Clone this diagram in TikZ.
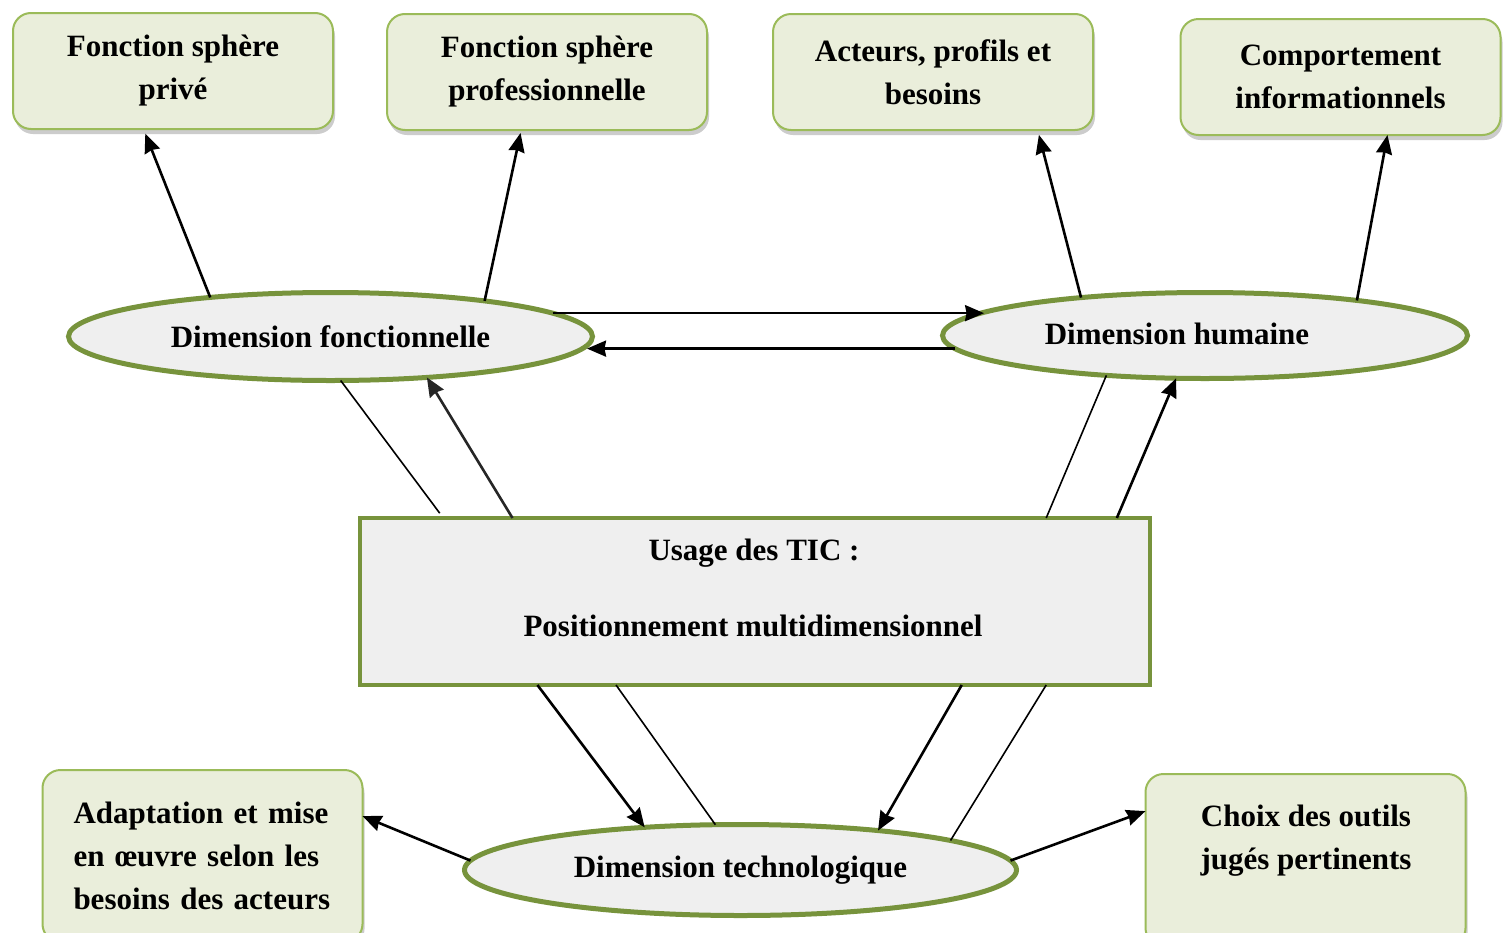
\documentclass[tikz,border=0pt]{standalone}
\usepackage{fontspec}
\setmainfont{Liberation Serif}
\usetikzlibrary{shapes.geometric,arrows.meta,shadows}
\definecolor{boxline}{HTML}{9BBB59}
\definecolor{boxfill}{HTML}{EAEEDB}
\definecolor{dimline}{HTML}{77933C}
\definecolor{dimfill}{HTML}{EFEFEF}
\begin{document}
\begin{tikzpicture}[x=1pt,y=-1pt,
  txt/.style={font=\fontsize{31}{43}\selectfont\bfseries, align=center, inner sep=0pt},
  topic/.style={txt, draw=boxline, fill=boxfill, line width=2pt, rounded corners=18pt,
    minimum width=320pt, minimum height=116pt, outer sep=0pt,
    drop shadow={shadow xshift=2pt, shadow yshift=-5pt, opacity=0.4}},
  dim/.style={txt, ellipse, draw=dimline, fill=dimfill, line width=5pt, outer sep=0pt},
  usage/.style={draw=dimline, fill=dimfill, line width=4pt, minimum width=790pt,
    minimum height=167pt, inner sep=0pt, outer sep=0pt},
  arr/.style={-{Stealth[length=19pt,width=16pt,inset=1.5pt]}, line width=2.6pt},
  link/.style={line width=1.6pt},
]
\clip (0,0) rectangle (1507,932);
\fill[white] (0,0) rectangle (1507,932);

% upper topic boxes
\node[topic] (prive) at (173,71) {Fonction sphère\\privé};
\node[topic] (pro) at (547,72) {Fonction sphère\\professionnelle};
\node[topic] (acteurs) at (933,72) {Acteurs, profils et\\besoins};
\node[topic] (comport) at (1340.5,77) {Comportement\\informationnels};

% lower topic boxes
\node[topic, minimum height=172pt, text width=258pt, align=left] (adapt) at (202.5,856)
  {\makebox[258pt][s]{Adaptation et mise}\\\makebox[258pt][s]{en œuvre selon les}\\\makebox[258pt][s]{besoins des acteurs}};
\node[topic, minimum height=172pt] (choix) at (1305.5,860) {};
\node[txt] (choix-t) at (1306,841) {Choix des outils\\jugés pertinents};

% the three dimensions
\node[dim, minimum width=524pt, minimum height=88pt] (fonc) at (330.5,336.5) {Dimension fonctionnelle};
\node[dim, minimum width=525pt, minimum height=86pt] (hum) at (1205,335.5) {};
\node[txt] (hum-t) at (1177,334) {Dimension humaine};
\node[dim, minimum width=552pt, minimum height=91pt] (tech) at (740.5,870) {Dimension technologique};

% central box
\node[usage] (tic) at (755,601.5) {};
\node[txt] (tic-a) at (754,553) {Usage des TIC :};
\node[txt] (tic-b) at (753,626) {Positionnement multidimensionnel};

% dimensions to their topics
\draw[arr, shorten >=5pt] (fonc.162) -- (prive.-117.3);
\draw[arr, shorten >=3pt] (fonc.13.9) -- (pro.-114.1);
\draw[arr, shorten >=5pt] (hum.163) -- (acteurs.-29.4);
\draw[arr] (hum.13.7) -- (comport.-51.9);

% between the functional and human dimensions
\draw[arr] (fonc.6) -- (hum.174.5 |- fonc.6);
\draw[arr] (hum.183) -- (hum.183 -| fonc.-2.5);

% central box and the dimensions
\draw[link, shorten >=6pt] (fonc.-77.8) -- (tic.165.9);
\draw[arr, draw=black!85] (tic.161.2) -- (fonc.-23.7);
\draw[link] (hum.202.9) -- (tic.16.8);
\draw[arr] (tic.13.6) -- (hum.-124.2);
\draw[arr] (tic.-159.1) -- (tech.156.4);
\draw[link] (tic.-149.4) -- (tech.119.4);
\draw[arr] (tic.-22.7) -- (tech.16.6);
\draw[link] (tic.-16.8) -- (tech.8.5);

% technological dimension to its topics
\draw[arr] (tech.178.1) -- (adapt.14.7);
\draw[arr] (tech.2) -- (choix.163.4);
\end{tikzpicture}
\end{document}
